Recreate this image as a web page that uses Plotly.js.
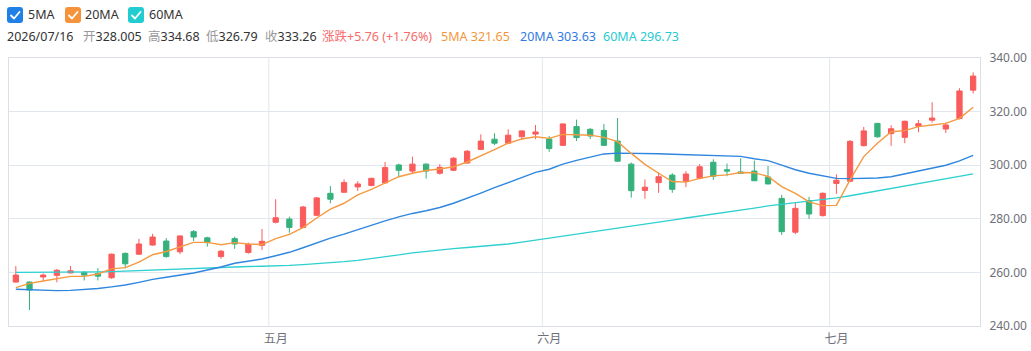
<!DOCTYPE html>
<html>
<head>
<meta charset="utf-8">
<script src="https://cdn.plot.ly/plotly-3.0.1.min.js"></script>
<style>
  html, body { margin:0; padding:0; background:#fff; }
  #wrap { position:relative; width:1031px; height:351px; overflow:hidden; }
  #chart { position:absolute; left:0; top:0; width:1031px; height:351px; }
  .hdr { position:absolute; font-family:"Noto Sans","Noto Sans CJK SC",sans-serif; white-space:nowrap; z-index:5; }
  .cb { position:absolute; width:16px; height:16px; border-radius:3px; top:7px; z-index:5; }
  .cb svg { position:absolute; left:0; top:0; }
  .lg { font-size:12.5px; color:#333; top:6px; line-height:18px; }
  .info { font-size:12.5px; top:28px; line-height:18px; }
  .g { color:#999; }
  .d { color:#333; }
</style>
</head>
<body>
<div id="wrap">
  <div id="chart"></div>
  <div class="cb" style="left:7px;background:#1f80e6"><svg width="16" height="16"><polyline points="4,8.5 7,11.5 12.5,5" fill="none" stroke="#fff" stroke-width="1.8" stroke-linecap="round" stroke-linejoin="round"/></svg></div>
  <div class="hdr lg" style="left:28px">5MA</div>
  <div class="cb" style="left:65px;background:#f5923a"><svg width="16" height="16"><polyline points="4,8.5 7,11.5 12.5,5" fill="none" stroke="#fff" stroke-width="1.8" stroke-linecap="round" stroke-linejoin="round"/></svg></div>
  <div class="hdr lg" style="left:85px">20MA</div>
  <div class="cb" style="left:128px;background:#22cdd2"><svg width="16" height="16"><polyline points="4,8.5 7,11.5 12.5,5" fill="none" stroke="#fff" stroke-width="1.8" stroke-linecap="round" stroke-linejoin="round"/></svg></div>
  <div class="hdr lg" style="left:149px">60MA</div>

  <div class="hdr info d" style="left:7px">2026/07/16</div>
  <div class="hdr info" style="left:83px"><span class="g">开</span><span class="d">328.005</span></div>
  <div class="hdr info" style="left:148px"><span class="g">高</span><span class="d">334.68</span></div>
  <div class="hdr info" style="left:206px"><span class="g">低</span><span class="d">326.79</span></div>
  <div class="hdr info" style="left:265px"><span class="g">收</span><span class="d">333.26</span></div>
  <div class="hdr info" style="left:322px;color:#f66b6b">涨跌+5.76 (+1.76%)</div>
  <div class="hdr info" style="left:441px;color:#f5963c">5MA 321.65</div>
  <div class="hdr info" style="left:520px;color:#2f7be3">20MA 303.63</div>
  <div class="hdr info" style="left:603px;color:#26cbd0">60MA 296.73</div>
</div>
<script>
// ---- data ----
const opens  = [256.4,256.4,258.3,258.9,259.8,260.0,259.6,258.0,267.1,266.8,270.2,271.7,267.7,275.2,272.9,265.9,272.6,267.4,270.1,278.7,
                279.9,276.8,281.3,289.5,289.9,291.9,292.4,293.4,300.1,297.8,300.4,297.0,298.1,300.8,305.9,309.7,308.2,310.6,311.6,309.8,
                307.4,314.4,313.4,313.0,309.0,300.4,290.6,293.5,296.3,294.0,295.1,301.1,298.3,297.5,297.8,295.6,287.6,275.0,286.8,281.2,
                293.2,294.0,307.3,315.6,311.8,310.4,314.5,316.8,313.5,317.4,328.005];
const highs  = [262.4,256.6,259.6,261.3,262.4,260.5,261.6,267.0,267.4,272.5,274.4,272.8,273.8,275.8,273.3,268.4,273.3,271.1,276.2,287.3,
                280.8,284.8,288.1,292.2,294.7,294.0,295.3,301.2,300.6,303.2,300.7,300.4,303.0,305.7,311.5,311.9,313.4,312.9,315.0,310.9,
                315.6,317.0,313.8,315.4,317.6,301.0,294.7,297.4,297.0,297.8,300.4,302.2,300.6,302.6,301.7,299.7,288.9,286.0,288.2,289.9,
                296.6,309.4,314.3,315.8,314.9,316.6,316.9,323.5,315.9,328.7,334.68];
const lows   = [256.2,246.0,256.9,256.3,259.6,257.0,257.0,257.6,261.5,266.5,270.0,265.5,266.8,271.7,269.6,265.1,268.8,267.0,268.4,278.3,
                274.8,276.5,281.0,285.8,289.6,290.4,292.2,293.3,295.5,296.7,295.0,296.5,297.8,300.6,305.8,307.5,308.0,309.4,309.7,305.0,
                307.2,309.0,309.8,307.2,301.2,287.9,287.5,289.7,289.7,291.8,294.7,294.5,295.9,296.9,294.1,292.9,274.0,274.3,280.0,280.8,
                289.3,293.7,307.0,310.3,307.2,308.2,312.3,315.9,312.0,317.1,326.79];
const closes = [259.0,253.4,259.0,260.8,260.6,259.0,258.6,266.8,263.2,270.6,273.2,265.9,273.6,273.2,271.1,267.9,270.6,270.5,271.6,280.4,
                276.8,284.4,287.8,287.3,293.5,293.0,295.1,299.1,298.1,300.4,297.8,299.2,302.6,305.2,309.0,308.2,311.2,312.8,312.4,306.2,
                315.4,310.3,310.9,307.4,301.5,290.5,291.8,295.7,291.0,296.7,299.4,295.9,297.8,297.0,294.2,293.0,275.2,283.9,281.8,289.5,
                294.4,308.9,312.8,310.6,313.6,316.4,315.5,317.6,315.0,327.7,333.26];
const ma5    = [254.3,255.9,256.8,257.7,258.5,258.5,259.4,261.3,261.8,263.8,266.6,267.8,269.6,271.2,271.2,270.3,271.1,270.6,270.4,272.6,
                274.2,276.7,280.3,283.6,285.8,288.9,291.0,293.5,295.7,297.0,298.0,298.6,299.4,301.2,303.4,305.8,308.2,309.8,310.6,310.0,
                311.5,311.4,311.2,310.4,308.8,304.4,300.3,297.0,293.9,293.7,295.1,296.0,296.4,297.3,297.2,295.8,292.0,289.5,286.3,284.9,
                285.0,294.5,303.2,308.2,312.5,312.9,314.4,315.0,315.6,317.5,321.65];
const ma20   = [253.7,253.5,253.3,253.2,253.3,253.6,254.0,254.6,255.3,256.3,257.4,258.2,259.0,259.8,260.9,262.0,263.4,264.3,265.0,266.2,
                267.5,269.2,271.0,272.8,274.3,276.0,277.6,279.2,280.7,282.0,283.0,284.2,285.8,287.6,289.6,291.6,293.5,295.5,297.3,298.5,
                300.4,301.8,303.1,304.2,304.5,304.5,304.4,304.3,304.1,303.9,303.7,303.6,303.5,303.3,302.4,301.7,300.0,298.3,297.0,296.0,
                295.1,295.0,295.0,295.2,295.7,296.8,297.8,298.8,300.0,301.6,303.63];
const ma60   = [260.0,260.0,260.0,260.0,260.1,260.1,260.2,260.3,260.5,260.7,260.9,261.2,261.4,261.6,261.8,262.0,262.1,262.2,262.3,262.4,
                262.6,262.9,263.2,263.6,264.0,264.5,265.1,265.8,266.5,267.3,267.9,268.4,268.9,269.3,269.7,270.1,270.6,271.3,272.0,272.8,
                273.5,274.3,275.0,275.8,276.5,277.3,278.0,278.8,279.5,280.3,281.0,281.8,282.5,283.3,284.0,284.8,285.4,286.0,286.5,287.1,
                287.8,288.6,289.5,290.4,291.3,292.2,293.1,294.0,294.9,295.8,296.73];
const monthStart  = [19, 39, 60];           // index of first trading day of each month
const monthLabels = ['五月', '六月', '七月'];
const yTicks = [240, 260, 280, 300, 320, 340];

// ---- drawing ----
const idx = closes.map((_, i) => i);
const RED = '#fa5b5b', GREEN = '#35b17c';
const GRID = '#e2e6ee', AXIS = '#dcdfe6';

const traces = [
  {
    type: 'candlestick', x: idx, open: opens, high: highs, low: lows, close: closes,
    increasing: { line: { color: RED, width: 1 }, fillcolor: RED },
    decreasing: { line: { color: GREEN, width: 1 }, fillcolor: GREEN },
    whiskerwidth: 0, hoverinfo: 'skip', showlegend: false
  },
  { type: 'scatter', mode: 'lines', x: idx, y: ma60, line: { color: '#2fd0d0', width: 1.3 }, hoverinfo: 'skip', showlegend: false },
  { type: 'scatter', mode: 'lines', x: idx, y: ma20, line: { color: '#2f86de', width: 1.4 }, hoverinfo: 'skip', showlegend: false },
  { type: 'scatter', mode: 'lines', x: idx, y: ma5,  line: { color: '#f59a40', width: 1.4 }, hoverinfo: 'skip', showlegend: false }
];

const shapes = monthStart.map(m => ({
  type: 'line', xref: 'x', yref: 'paper', x0: m - 0.5, x1: m - 0.5, y0: 0, y1: 1,
  line: { color: GRID, width: 1 }, layer: 'below'
}));

const layout = {
  width: 1031, height: 351,
  margin: { l: 9, r: 51, t: 58, b: 25, pad: 0 },
  paper_bgcolor: '#fff', plot_bgcolor: '#fff',
  showlegend: false,
  boxgap: 0.45,
  shapes: shapes,
  xaxis: {
    type: 'linear', range: [-0.5, closes.length - 0.5],
    tickmode: 'array', tickvals: monthStart, ticktext: monthLabels,
    showgrid: false, zeroline: false, showline: true, mirror: true, linecolor: AXIS, linewidth: 1,
    ticks: '', ticklabelstandoff: 2,
    tickfont: { family: 'Noto Sans CJK SC, Noto Sans, sans-serif', size: 12, color: '#6E7079' },
    rangeslider: { visible: false }, fixedrange: true
  },
  yaxis: {
    side: 'right', range: [240, 340],
    tickmode: 'array', tickvals: yTicks, ticktext: yTicks.map(v => v.toFixed(2)),
    showgrid: true, gridcolor: GRID, gridwidth: 1,
    zeroline: false, showline: true, mirror: true, linecolor: AXIS, linewidth: 1,
    ticks: '', ticklabelstandoff: 6,
    tickfont: { family: 'Noto Sans, sans-serif', size: 12, color: '#6E7079' },
    fixedrange: true
  },
  font: { family: 'Noto Sans, Noto Sans CJK SC, sans-serif' }
};

Plotly.newPlot('chart', traces, layout, { displayModeBar: false, staticPlot: true });
</script>
</body>
</html>
